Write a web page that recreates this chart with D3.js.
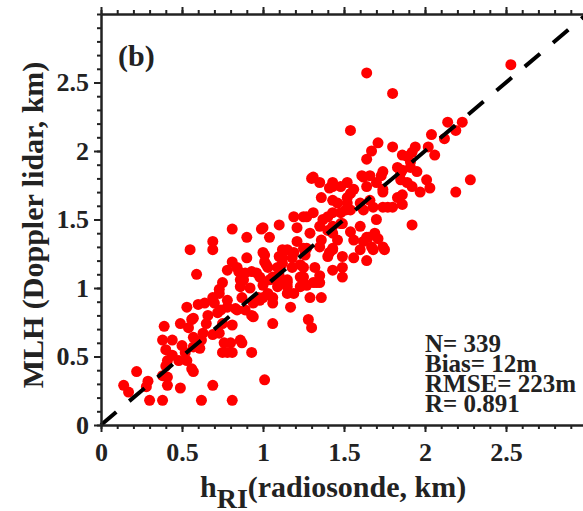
<!DOCTYPE html>
<html>
<head>
<meta charset="utf-8">
<script src="https://cdn.jsdelivr.net/npm/d3@7"></script>
<style>
  body { margin: 0; background: #fff; }
  text { font-family: "Liberation Serif", "Times New Roman", serif; font-weight: bold; fill: #222; }
  .axis path, .axis line { stroke: #222; stroke-width: 2; }
</style>
</head>
<body>
<svg id="chart" width="583" height="511"></svg>
<script>
// h_RI from radiosonde (km)
const hRI = [
  0.14, 0.17, 0.22, 0.29, 0.28, 0.30, 0.38, 0.38, 0.41, 0.41, 0.40, 0.49, 0.56, 0.62, 0.69, 0.81, 1.01,
  0.38, 0.39, 0.44, 0.40, 0.41, 0.44, 0.48, 0.50, 0.52, 0.53, 0.57, 0.49, 0.53, 0.56, 0.54, 0.57, 0.57,
  0.61, 0.62, 0.63, 0.60, 0.64, 0.66, 0.65, 0.69, 0.70, 0.73, 0.74, 0.75, 0.73, 0.76, 0.78, 0.80, 0.75,
  0.81, 0.81, 0.83, 0.87, 0.89, 0.93, 0.87, 0.86, 0.93, 0.94, 0.97, 1.06, 1.03, 1.06, 0.78, 0.69, 1.00,
  1.06, 1.15, 1.17, 1.29, 1.36, 1.28, 1.30, 0.94,
  0.55, 0.59, 0.69, 0.69, 0.81, 0.90, 0.99, 1.04, 1.10, 1.19, 1.21, 1.27, 1.31, 0.90, 0.81, 0.78, 0.85,
  0.86, 0.75, 0.73, 0.93, 1.00, 1.02, 0.98, 1.04, 0.92, 1.09, 1.15, 1.12, 1.19, 1.21, 1.27, 1.23, 1.29,
  1.32, 1.27, 1.19, 0.98, 0.84, 0.78, 0.69, 0.57, 0.72, 1.10, 0.88, 0.89, 0.96, 1.03, 1.06, 1.12, 1.18,
  1.23, 1.35, 1.43, 1.49, 1.15, 1.23, 1.33, 0.86, 1.00, 1.09, 1.01, 1.12, 1.18, 1.35, 1.41, 1.49, 1.49,
  0.84, 1.36, 1.46, 1.25, 1.40, 1.43, 1.51, 1.30, 1.35, 1.41, 1.36, 1.43, 1.52, 1.43, 1.54, 1.61, 1.66,
  1.73, 1.74, 1.64, 1.83, 1.86, 1.85, 1.89, 1.60, 1.68, 1.77, 1.52, 1.48, 1.43, 1.37, 1.00, 1.40, 1.49,
  1.54, 1.60, 1.70, 1.69, 1.71, 1.62, 1.68, 1.75, 1.60, 1.56, 1.64, 1.43, 1.26, 1.15, 1.10, 1.01, 1.09,
  1.15, 1.25, 1.31, 1.35, 1.70, 1.64, 1.74, 1.67, 1.43, 1.48, 1.35, 1.25, 1.43, 1.56, 1.40, 1.25,
  1.64, 1.80, 1.54, 1.71, 1.67, 1.64, 1.80, 1.86, 1.92, 1.94, 2.02, 2.04, 2.06, 2.12, 2.14, 2.19, 2.23,
  2.28, 2.19, 1.92, 1.91, 1.86, 1.95, 2.01, 2.03, 1.97, 1.92, 1.83, 1.74, 1.62, 1.74, 1.86, 1.80, 1.56,
  1.52, 1.46, 1.54, 1.62, 1.66, 1.43, 2.53, 1.89, 1.91, 1.85, 1.31, 1.48, 1.74, 1.65
];
// MLH from Doppler lidar (km)
const mlh = [
  0.29, 0.24, 0.39, 0.32, 0.28, 0.18, 0.18, 0.36, 0.29, 0.35, 0.43, 0.27, 0.41, 0.18, 0.29, 0.18, 0.33,
  0.62, 0.72, 0.62, 0.55, 0.47, 0.51, 0.47, 0.58, 0.53, 0.47, 0.39, 0.74, 0.86, 0.77, 0.71, 0.64, 0.57,
  0.56, 0.62, 0.67, 0.88, 0.89, 0.80, 0.74, 0.66, 0.89, 0.96, 0.84, 0.74, 0.67, 0.60, 0.53, 0.60, 0.53,
  0.53, 0.73, 0.85, 0.93, 0.84, 0.80, 0.60, 0.62, 0.53, 0.89, 0.93, 0.74, 0.96, 0.89, 0.91, 0.93, 0.93,
  0.93, 0.96, 0.86, 0.93, 0.93, 0.77, 0.71, 0.79,
  1.28, 1.10, 1.34, 1.28, 1.43, 1.37, 1.43, 1.37, 1.46, 1.52, 1.44, 1.52, 1.55, 1.22, 1.19, 1.13, 1.12,
  1.06, 1.04, 0.99, 1.12, 1.26, 1.17, 1.08, 1.06, 1.00, 1.04, 1.04, 1.22, 1.26, 1.34, 1.29, 1.17, 1.40,
  1.15, 1.02, 0.96, 0.91, 0.84, 0.86, 0.91, 0.78, 0.82, 1.09, 1.06, 1.11, 1.11, 1.15, 1.08, 1.18, 1.15,
  1.08, 1.09, 1.13, 1.08, 1.01, 1.01, 1.04, 1.01, 1.02, 1.01, 1.24, 1.28, 1.22, 1.30, 1.26, 1.23, 1.15,
  1.15, 1.35, 1.35, 1.52, 1.52, 1.45, 1.57, 1.80, 1.77, 1.73, 1.66, 1.64, 1.77, 1.77, 1.69, 1.82, 1.82,
  1.82, 1.70, 1.74, 1.66, 1.68, 1.84, 1.77, 1.62, 1.59, 1.59, 1.62, 1.55, 1.55, 1.50, 1.44, 1.42, 1.47,
  1.41, 1.45, 1.50, 1.40, 1.36, 1.34, 1.28, 1.28, 1.28, 1.22, 1.20, 1.28, 1.24, 1.28, 1.23, 1.19, 1.15,
  1.06, 1.08, 1.04, 1.04, 1.77, 1.37, 1.30, 1.30, 1.40, 1.47, 1.45, 1.29, 1.29, 1.35, 1.23, 1.15,
  2.57, 2.42, 2.15, 2.06, 2.00, 1.94, 2.03, 1.97, 1.99, 2.03, 2.03, 2.12, 1.97, 2.09, 2.21, 2.15, 2.21,
  1.79, 1.70, 1.46, 1.92, 1.86, 1.85, 1.79, 1.73, 1.70, 1.74, 1.88, 1.85, 1.81, 1.72, 1.61, 1.59, 1.72,
  1.66, 1.62, 1.57, 1.57, 1.64, 1.74, 2.63, 1.96, 1.88, 1.79, 1.81, 1.74, 1.59, 1.37
];

const xTicks = [0, 0.5, 1, 1.5, 2, 2.5];
const yTicks = [0, 0.5, 1, 1.5, 2, 2.5];
const stats = ["N= 339", "Bias= 12m", "RMSE= 223m", "R= 0.891"];

const svg = d3.select("#chart");
const x = d3.scaleLinear().domain([0, 3]).range([101, 587]);
const y = d3.scaleLinear().domain([0, 3]).range([425, 14]);
const minor = d3.range(0, 3.001, 0.1);

const points = hRI.map((d, i) => ({ x: d, y: mlh[i] }));

svg.append("g")
  .selectAll("circle")
  .data(points)
  .join("circle")
  .attr("cx", (d) => x(d.x))
  .attr("cy", (d) => y(d.y))
  .attr("r", 5.5)
  .attr("fill", "#ff0000");

// 1:1 line
svg.append("line")
  .attr("x1", x(0)).attr("y1", y(0))
  .attr("x2", x(3)).attr("y2", y(3))
  .attr("stroke", "#000")
  .attr("stroke-width", 4)
  .attr("stroke-dasharray", "20,17");

// minor ticks on all four sides
svg.append("g").attr("class", "axis").attr("transform", "translate(0,425)")
  .call(d3.axisBottom(x).tickValues(minor).tickSize(4).tickSizeOuter(0).tickFormat(""));
svg.append("g").attr("class", "axis").attr("transform", "translate(0,14)")
  .call(d3.axisTop(x).tickValues(minor).tickSize(4).tickSizeOuter(0).tickFormat(""));
svg.append("g").attr("class", "axis").attr("transform", "translate(101,0)")
  .call(d3.axisLeft(y).tickValues(minor).tickSize(4).tickSizeOuter(0).tickFormat(""));
svg.append("g").attr("class", "axis").attr("transform", "translate(587,0)")
  .call(d3.axisRight(y).tickValues(minor).tickSize(4).tickSizeOuter(0).tickFormat(""));

// major ticks
svg.append("g").attr("class", "axis").attr("transform", "translate(0,425)")
  .call(d3.axisBottom(x).tickValues(xTicks).tickSize(7).tickSizeOuter(0).tickPadding(11).tickFormat(d3.format("")));
svg.append("g").attr("class", "axis").attr("transform", "translate(0,14)")
  .call(d3.axisTop(x).tickValues(d3.range(0, 3.01, 0.5)).tickSize(7).tickSizeOuter(0).tickFormat(""));
svg.append("g").attr("class", "axis").attr("transform", "translate(101,0)")
  .call(d3.axisLeft(y).tickValues(yTicks).tickSize(7).tickSizeOuter(0).tickPadding(5).tickFormat(d3.format("")));
svg.append("g").attr("class", "axis").attr("transform", "translate(587,0)")
  .call(d3.axisRight(y).tickValues(d3.range(0, 3.01, 0.5)).tickSize(7).tickSizeOuter(0).tickFormat(""));

svg.selectAll(".axis text")
  .style("font-family", "'Liberation Serif', serif")
  .style("font-weight", "bold")
  .style("font-size", "26px")
  .attr("fill", "#222");

// panel label
svg.append("text").attr("x", 118).attr("y", 66).style("font-size", "30px").text("(b)");

// stats block
svg.append("g")
  .selectAll("text")
  .data(stats)
  .join("text")
  .attr("x", 425)
  .attr("y", (d, i) => 352 + i * 20)
  .style("font-size", "25px")
  .text((d) => d);

// axis titles
svg.append("text")
  .attr("transform", "translate(43,225) rotate(-90)")
  .attr("text-anchor", "middle")
  .style("font-size", "30px")
  .text("MLH (Doppler lidar, km)");

const xt = svg.append("text").attr("x", 200).attr("y", 497).style("font-size", "30px");
xt.append("tspan").text("h");
xt.append("tspan").attr("dy", 11).style("font-size", "28px").text("RI");
xt.append("tspan").attr("dy", -11).text("(radiosonde, km)");
</script>
</body>
</html>
